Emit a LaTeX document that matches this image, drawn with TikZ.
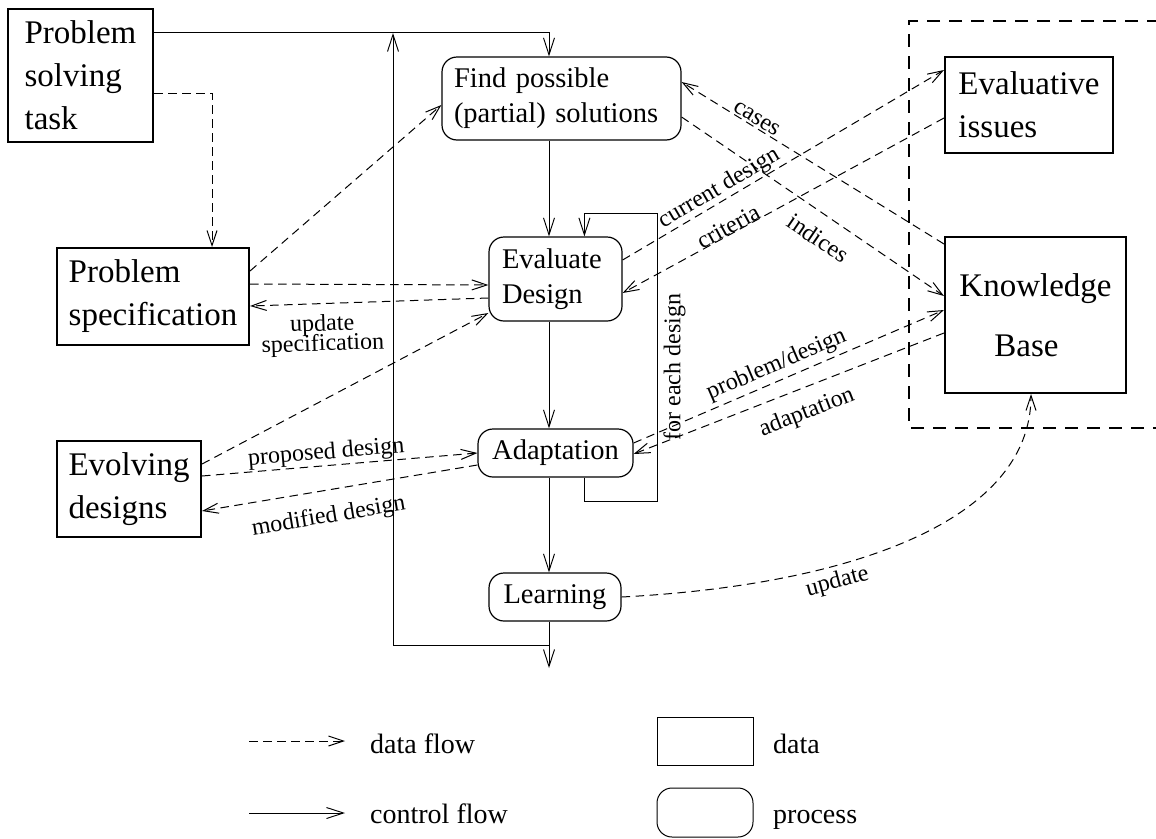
\documentclass[tikz,border=0pt]{standalone}
\usepackage{fontspec}
\setmainfont{Liberation Serif}
\usetikzlibrary{arrows.meta,calc}
\begin{document}
\begin{tikzpicture}[x=1pt,y=-1pt,
  databox/.style={draw, line width=2pt, align=left, inner sep=0pt,
    font=\fontsize{33}{43}\selectfont},
  procbox/.style={draw, line width=1.2pt, rounded corners=15pt, inner sep=0pt,
    font=\fontsize{28.5}{35}\selectfont},
  cflow/.style={line width=0.95pt, -{Straight Barb[length=17pt,width=11pt]}},
  dflow/.style={line width=1pt, dash pattern=on 8.5pt off 5.5pt,
    -{Straight Barb[length=15pt,width=10pt]}},
  bound/.style={line width=2.2pt, dash pattern=on 13pt off 9pt},
  lbl/.style={font={\fontsize{24}{20}\selectfont}, inner sep=1pt},
  legtext/.style={font={\fontsize{28}{34}\selectfont}, inner sep=0pt},
  legbox/.style={draw, line width=1pt, minimum width=96pt}
]
\useasboundingbox (0,0) rectangle (1156,838);

% data nodes
\node[databox, minimum width=145pt, minimum height=133pt] (pst) at (80.5,75.5) {Problem\\solving\\task};
\node[databox, minimum width=192pt, minimum height=97pt] (ps) at (153,296.5) {Problem\\specification};
\node[databox, minimum width=144pt, minimum height=96pt] (evo) at (129,489) {Evolving\\designs};
\node[databox, minimum width=168pt, minimum height=96pt] (evi) at (1029,105) {Evaluative\\issues};
\node[databox, minimum width=181pt, minimum height=156pt, font=\fontsize{33}{60}\selectfont] (kb) at (1035.5,315) {Knowledge\\\hspace*{35pt}Base};

% process nodes
\node[procbox, align=left, text width=215pt, inner xsep=12pt, minimum height=83pt] (find) at (561.5,98.5) {Find possible\\(partial) solutions};
\node[procbox, align=left, text width=107pt, inner xsep=13pt, minimum height=84pt] (eval) at (555.5,279) {Evaluate\\Design};
\node[procbox, minimum width=155pt, minimum height=48pt] (adapt) at (555.5,453) {Adaptation};
\node[procbox, minimum width=132pt, minimum height=48pt] (learn) at (555,597) {Learning};

% boundary of knowledge
\coordinate (b1) at (1160,21);
\coordinate (b2) at (909,21);
\coordinate (b3) at (909,428);
\coordinate (b4) at (1160,428);
\draw[bound] (b1) -- (b2) -- (b3) -- (b4);

% control flow
\coordinate (ctl) at (549,0);
\coordinate (exit) at (549,668);
\coordinate (lb) at (393,645);
\coordinate (lt) at (393,33);
\coordinate (fe1) at (657,501);
\coordinate (fe2) at (657,213);
\draw[cflow] ($(pst.north east)+(0,24)$) -| (find.north -| ctl);
\draw[cflow] (find.south -| ctl) -- (eval.north -| ctl);
\draw[cflow] (eval.south -| ctl) -- (adapt.north -| ctl);
\draw[cflow] (adapt.south -| ctl) -- (learn.north -| ctl);
\draw[cflow] (learn.south -| ctl) -- (exit);
\draw[cflow] (ctl |- lb) -- (lb) -- (lt);
\draw[cflow] ($(adapt.south west)+(107,0)$) |- (fe1)
  -- node[lbl, pos=0.465, sloped, below=5pt] (lfe) {for each design} (fe2)
  -| ($(eval.north west)+(96,0)$);

% data flow
\draw[dflow] ($(pst.east)+(0,17.5)$) -| ($(ps.north west)+(156,0)$);
\draw[dflow] ($(ps.north east)+(0,24)$) -- ($(find.west)+(0,6.5)$);
\draw[dflow] ($(ps.north east)+(0,37)$) -- ($(eval.west)+(0,6)$);
\draw[dflow] ($(eval.west)+(0,19)$) -- node[lbl, pos=0.7, sloped, below=9pt, align=center] (lus) {update\\[-3pt]specification} ($(ps.north east)+(0,59)$);
\draw[dflow] ($(evo.east)+(0,-25)$) -- ($(eval.west)+(0,34)$);
\draw[dflow] ($(evo.east)+(0,-13)$) -- node[lbl, pos=0.455, sloped, above] (lpd) {proposed design} (adapt.west);
\draw[dflow] ($(adapt.west)+(0,12)$) -- node[lbl, pos=0.556, sloped, below=14pt] (lmd) {modified design} ($(evo.east)+(0,22)$);
\draw[dflow] ($(eval.east)+(0,-19)$) -- node[lbl, pos=0.32, sloped, above] (lcd) {current design} ($(evi.west)+(0,-35)$);
\draw[dflow] ($(evi.west)+(0,13)$) -- node[lbl, pos=0.66, sloped, anchor=base] (lcr) {criteria} ($(eval.east)+(0,14)$);
\draw[dflow] ($(kb.north west)+(0,8)$) -- node[lbl, pos=0.73, sloped, above=1pt] (lca) {cases} ($(find.east)+(0,-16.5)$);
\draw[dflow] ($(find.east)+(0,18.5)$) -- node[lbl, pos=0.57, sloped, below=13pt] (lin) {indices} ($(kb.west)+(0,-19)$);
\draw[dflow] ($(adapt.east)+(0,-10)$) -- node[lbl, pos=0.48, sloped, above=3pt] (lpr) {problem/design} ($(kb.west)+(0,-5)$);
\draw[dflow] ($(kb.west)+(0,18)$) -- node[lbl, pos=0.47, sloped, below=12pt] (lad) {adaptation} ($(adapt.east)+(0,1)$);
\draw[dflow] (learn.east) .. controls +(229,-12) and +(0,127) .. node[lbl, pos=0.34, sloped, below=4pt] (lup) {update} ($(kb.south)+(-4.5,0)$);

% legend
\coordinate (l1) at (249,741);
\coordinate (l2) at (345,741);
\coordinate (l3) at (249,813);
\coordinate (l4) at (345,813);
\draw[dflow] (l1) -- (l2);
\draw[cflow] (l3) -- (l4);
\node[legtext, anchor=base west] (tdf) at (370,753) {data flow};
\node[legtext, anchor=base west] (tcf) at (370,823) {control flow};
\node[legbox, minimum height=48pt] (ldata) at (705,741) {};
\node[legbox, rounded corners=15pt, minimum height=49pt] (lproc) at (705,812.5) {};
\node[legtext, anchor=base west] (td) at (773,753) {data};
\node[legtext, anchor=base west] (tp) at (773,823) {process};
\end{tikzpicture}
\end{document}
